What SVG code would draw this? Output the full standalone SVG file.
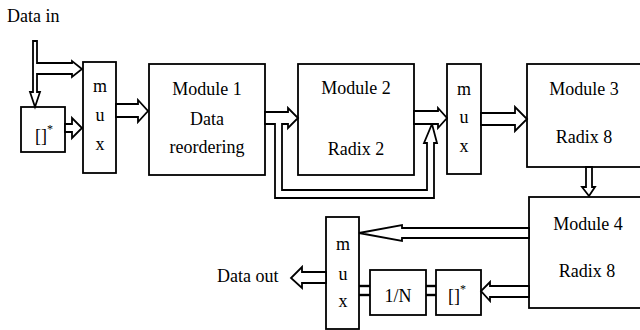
<svg xmlns="http://www.w3.org/2000/svg" width="640" height="330" viewBox="0 0 640 330" font-family="Liberation Serif, DejaVu Serif, Times New Roman, Times, serif" font-size="18">
<style>
.box{fill:#fff;stroke:#000;stroke-width:1.8}
.arr{fill:#fff;stroke:#000;stroke-width:1.8;stroke-linejoin:miter}
.ln{fill:none;stroke:#000;stroke-width:2.4}
.c{text-anchor:middle}
</style>
<rect width="640" height="330" fill="#fff"/>
<text x="7" y="22">Data in</text>
<text x="217" y="282">Data out</text>
<g id="conj1">
<rect class="box" x="21" y="107" width="44" height="45"/>
<text x="35" y="142">[]<tspan font-size="12" dy="-9">*</tspan></text>
</g>
<g id="mux1">
<rect class="box" x="83" y="62" width="33" height="111"/>
<text class="c" x="100" y="92">m</text>
<text class="c" x="100" y="121">u</text>
<text class="c" x="100" y="150">x</text>
</g>
<g id="module1">
<rect class="box" x="149" y="64" width="116" height="111"/>
<text class="c" x="207" y="95">Module 1</text>
<text class="c" x="207" y="125">Data</text>
<text class="c" x="207" y="153">reordering</text>
</g>
<g id="module2">
<rect class="box" x="298" y="64" width="116" height="111"/>
<text class="c" x="356" y="94">Module 2</text>
<text class="c" x="356" y="155">Radix 2</text>
</g>
<g id="mux2">
<rect class="box" x="447" y="64" width="34" height="110"/>
<text class="c" x="464" y="95">m</text>
<text class="c" x="464" y="123">u</text>
<text class="c" x="464" y="152">x</text>
</g>
<g id="module3">
<rect class="box" x="527" y="64" width="116" height="103"/>
<text class="c" x="584" y="95">Module 3</text>
<text class="c" x="584" y="143">Radix 8</text>
</g>
<g id="module4">
<rect class="box" x="529" y="197" width="114" height="111"/>
<text class="c" x="588" y="230">Module 4</text>
<text class="c" x="587" y="277">Radix 8</text>
</g>
<g id="mux3">
<rect class="box" x="326" y="217" width="33" height="112"/>
<text class="c" x="343" y="250">m</text>
<text class="c" x="343" y="280">u</text>
<text class="c" x="343" y="307">x</text>
</g>
<g id="invN">
<rect class="box" x="370" y="270" width="56" height="45"/>
<text class="c" x="398" y="302">1/N</text>
</g>
<g id="conj2">
<rect class="box" x="436" y="270" width="45" height="45"/>
<text x="448" y="302">[]<tspan font-size="12" dy="-9">*</tspan></text>
</g>
<g id="connectors">
<polygon class="arr" points="33,41 37,41 37,63 72,63 72,61 82,69 72,77 72,74 37,74 37,92 40,92 35,107 30,92 33,92"/>
<polygon class="arr" points="65,124 72,124 72,118 82,128 72,138 72,132 65,132"/>
<polygon class="arr" points="116,104 138,104 138,100 148,111 138,122 138,117 116,117"/>
<polygon class="arr" points="265,112 288,112 288,108 298,118 288,128 288,124 282,124 282,190 427,190 427,143 424,143 432,124 437,143 434,143 434,198 275,198 275,124 265,124"/>
<polygon class="arr" points="414,111 438,111 438,108 447,118 438,128 438,124 414,124"/>
<polygon class="arr" points="481,113 515,113 515,107 527,119 515,131 515,125 481,125"/>
<polygon class="arr" points="586,167 592,167 592,187 595,187 589,196 582,187 586,187"/>
<polygon class="arr" points="529,228 402,228 402,225 359,233 402,241 402,238 529,238"/>
<polygon class="arr" points="529,286 490,286 490,282 481,291 490,301 490,297 529,297"/>
<polygon class="arr" points="326,272 302,272 302,267 291,278 302,288 302,283 326,283"/>
<line class="ln" x1="359" y1="286" x2="370" y2="286"/>
<line class="ln" x1="359" y1="295" x2="370" y2="295"/>
<line class="ln" x1="426" y1="286" x2="436" y2="286"/>
<line class="ln" x1="426" y1="295" x2="436" y2="295"/>
</g>
</svg>
